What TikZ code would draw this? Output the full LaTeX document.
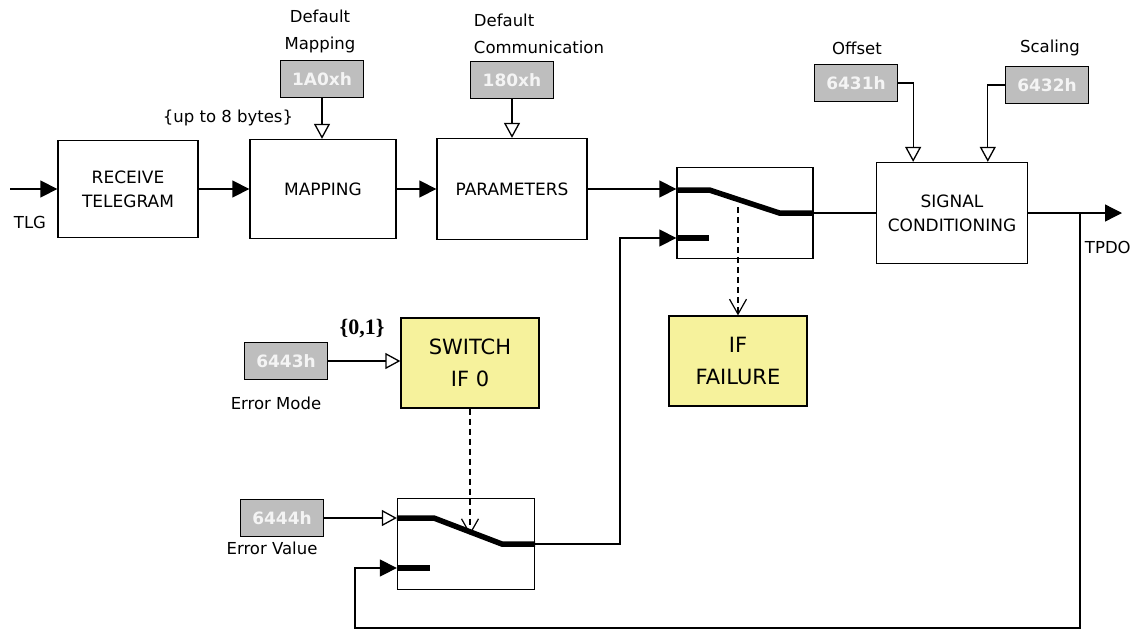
\documentclass[tikz,border=0pt]{standalone}
\usepackage{fontspec}
\setmainfont{DejaVu Sans}
\newfontfamily\numserif{Liberation Serif}
\usetikzlibrary{arrows.meta,calc,positioning}
\definecolor{parGray}{HTML}{BEBEBE}
\definecolor{parText}{HTML}{F4F4F4}
\definecolor{condYellow}{HTML}{F6F29C}

\begin{document}
\begin{tikzpicture}[x=1pt,y=-1pt,line width=1.3pt,
  blk/.style={draw,minimum width=146pt,minimum height=99pt,align=center,font=\fontsize{17}{24}\selectfont},
  swbox/.style={draw,minimum width=136pt,minimum height=91pt},
  cond/.style={draw,fill=condYellow,minimum width=138pt,minimum height=90pt,align=center,font=\fontsize{21}{32}\selectfont},
  parbox/.style={draw,fill=parGray,text=parText,minimum width=83pt,minimum height=37pt,font=\fontsize{17}{18}\selectfont\bfseries},
  lbl/.style={align=center,font=\fontsize{16.5}{27}\selectfont},
  farr/.style={-{Triangle[length=17pt,width=17pt]}},
  oarr/.style={-{Triangle[open,length=15pt,width=16pt,fill=white]}},
  vdash/.style={line width=1.2pt,dash pattern=on 6pt off 4pt,-{Straight Barb[length=15pt,width=17pt]}},
  contact/.style={line width=5.5pt}]
  \useasboundingbox (0,0) rectangle (1136,630);

  % main path
  \node[blk,minimum width=140pt,minimum height=97pt] (recv) at (128,189) {RECEIVE\\TELEGRAM};
  \node[blk] (mapping) at (323,189) {MAPPING};
  \node[blk,minimum width=150pt,minimum height=101pt] (params) at (512,189) {PARAMETERS};
  \node[swbox] (sw1) at (745,213) {};
  \node[blk,minimum width=151pt,minimum height=101pt] (sigcond) at (952,213) {SIGNAL\\CONDITIONING};
  \node[cond] (iffail) at (738,361) {IF\\FAILURE};

  % error branch
  \node[cond] (swif0) at (470,363) {SWITCH\\IF 0};
  \node[swbox,minimum width=137pt] (sw2) at (466,544) {};

  % parameter objects
  \node[parbox] (dmap) at (322,79) {1A0xh};
  \node[parbox] (dcom) at (512,80) {180xh};
  \node[parbox] (offs) at (856,83) {6431h};
  \node[parbox] (scal) at (1047,85) {6432h};
  \node[parbox] (emode) at (286,361) {6443h};
  \node[parbox] (evalue) at (282,518) {6444h};

  % labels
  \node[lbl] (dmaplbl) at (320,31) {Default\\Mapping};
  \node[lbl,align=left,anchor=west] (dcomlbl) at (470,34) {Default\\Communication};
  \node[lbl] (offslbl) at (857,48) {Offset};
  \node[lbl] (scallbl) at (1050,48) {Scaling};
  \node[lbl] (bytes) at (228,118) {\{up to 8 bytes\}};
  \node[lbl] (tlg) at (30,222) {TLG};
  \node[lbl,anchor=west] (tpdolbl) at (1081,247) {TPDO};
  \node[lbl] (emodelbl) at (276,403) {Error Mode};
  \node[lbl] (evaluelbl) at (272,548) {Error Value};
  \node[font=\fontsize{22}{22}\selectfont\numserif\bfseries] (range) at (362,329) {\{0,1\}};

  % switch contacts
  \draw[contact] ($(sw1.west)+(0,-23)$) -- ++(33,0) -- ++(70,23) -- (sw1.east);
  \draw[contact] ($(sw1.west)+(0,25)$) -- ++(33,0);
  \draw[contact] ($(sw2.west)+(0,-26)$) -- ++(37,0) -- ++(68,26) -- (sw2.east);
  \draw[contact] ($(sw2.west)+(0,24)$) -- ++(33,0);

  \coordinate (tlgin) at (10,189);
  \coordinate (sw1in2) at ($(sw1.west)+(0,25)$);
  \coordinate (sw2in2) at ($(sw2.west)+(0,24)$);
  \coordinate (fb1) at (620,238);
  \coordinate (tpdo) at (1122,213);
  \coordinate (fbr) at (1080,213);
  \coordinate (fbl) at (355,628);
  \coordinate (sw1tap) at (738,207);
  \coordinate (sw2tap) at (470,535);

  % connectors
  \draw[farr] (tlgin) -- (recv.west);
  \draw[farr] (recv.east) -- (mapping.west);
  \draw[farr] (mapping.east) -- (params.west);
  \draw[farr] (params.east) -- (params.east -| sw1.west);
  \draw[farr] (sw2.east) -| (fb1) -- (sw1in2);
  \draw (sw1.east) -- (sigcond.west);
  \draw[farr] (sigcond.east) -- (tpdo);
  \draw[farr] (fbr) |- (fbl) |- (sw2in2);

  \draw[oarr] (dmap.south) -- (dmap.south |- mapping.north);
  \draw[oarr] (dcom.south) -- (dcom.south |- params.north);
  \draw[oarr] (offs.east) -| ($(sigcond.north west)!0.245!(sigcond.north east)$);
  \draw[oarr] (scal.west) -| ($(sigcond.north west)!0.735!(sigcond.north east)$);
  \draw[oarr] (emode.east) -- (emode.east -| swif0.west);
  \draw[oarr] (evalue.east) -- (evalue.east -| sw2.west);

  \draw[vdash] (sw1tap) -- (iffail.north);
  \draw[vdash] (swif0.south) -- (sw2tap);
\end{tikzpicture}
\end{document}
